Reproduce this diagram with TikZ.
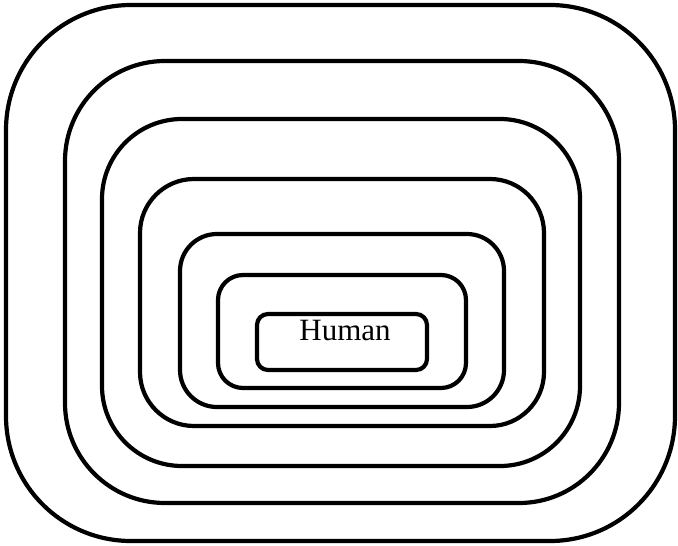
\documentclass[tikz,border=0pt]{standalone}
\usepackage{fontspec}
\setmainfont{Liberation Serif}
\begin{document}
\begin{tikzpicture}[x=1pt,y=-1pt,
  ring/.style={draw=black,line width=4.2pt}]
\useasboundingbox (0,0) rectangle (678,546);
\draw[ring,rounded corners=125pt] (6,5) rectangle (675,541);
\draw[ring,rounded corners=100pt] (65,61) rectangle (619,503);
\draw[ring,rounded corners=80pt] (102,119) rectangle (580,466);
\draw[ring,rounded corners=54pt] (140,179) rectangle (544,426);
\draw[ring,rounded corners=37pt] (180,234) rectangle (504,407);
\draw[ring,rounded corners=25pt] (218,275) rectangle (466,388);
\draw[ring,rounded corners=11pt] (257,314) rectangle (427,370);
\node[anchor=base,inner sep=0pt,font=\fontsize{31}{36}\selectfont] (human) at (345,340) {Human};
\end{tikzpicture}
\end{document}
